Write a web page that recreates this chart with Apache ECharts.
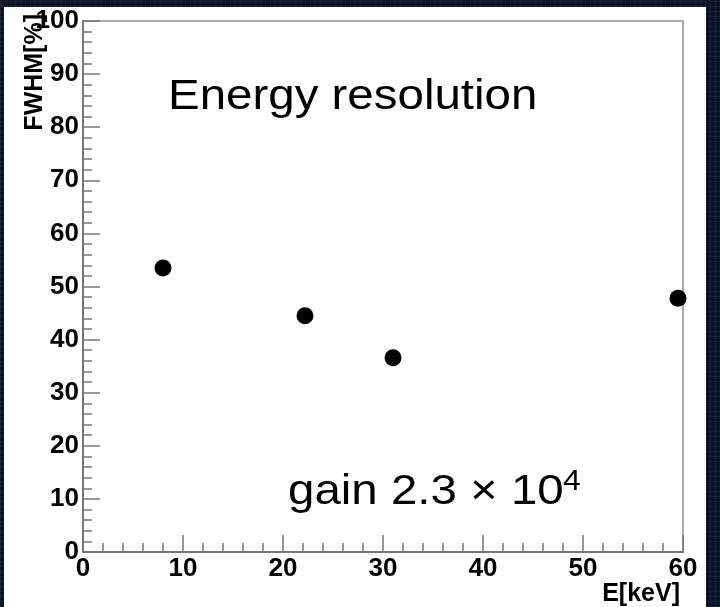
<!DOCTYPE html>
<html>
<head>
<meta charset="utf-8">
<script src="https://cdn.jsdelivr.net/npm/echarts@6/dist/echarts.min.js"></script>
<style>
  html, body { margin: 0; padding: 0; }
  body {
    width: 720px; height: 607px; overflow: hidden; position: relative;
    background-color: #0b1325;
    background-image:
      repeating-linear-gradient(0deg, rgba(40,55,90,0.3) 0px, rgba(40,55,90,0.3) 1px, transparent 1px, transparent 5px),
      repeating-linear-gradient(90deg, rgba(40,55,90,0.3) 0px, rgba(40,55,90,0.3) 1px, transparent 1px, transparent 5px);
  }
  #paper { position: absolute; left: 4px; top: 7px; width: 702px; height: 600px; background: #ffffff; }
  #chart { position: absolute; left: 0; top: 0; width: 720px; height: 607px; }
</style>
</head>
<body>
<div id="paper"></div>
<div id="chart"></div>
<script>
// Data
const energies = [8.0, 22.2, 31.0, 59.5];          // E [keV]
const fwhm = [53.5, 44.5, 36.6, 47.8];              // FWHM [%]
const xTicks = { min: 0, max: 60, interval: 10 };
const yTicks = { min: 0, max: 100, interval: 10 };
const xTitle = 'E[keV]';
const yTitle = 'FWHM[%]';
const titleText = 'Energy resolution';
const gainText = 'gain 2.3 \u00d7 10';
const gainExp = '4';

const points = energies.map((e, i) => [e, fwhm[i]]);

const chart = echarts.init(document.getElementById('chart'), null, { renderer: 'canvas' });
const axisGray = '#777777';
const labelFont = { color: '#000', fontWeight: 'bold', fontSize: 26, fontFamily: 'Liberation Sans, Arial, sans-serif' };

chart.setOption({
  backgroundColor: 'transparent',
  animation: false,
  grid: {
    left: 83, top: 21, width: 600, height: 531,
    show: true, borderColor: '#aaaaaa', borderWidth: 2, backgroundColor: 'transparent'
  },
  xAxis: {
    type: 'value', min: xTicks.min, max: xTicks.max, interval: xTicks.interval,
    axisLine: { show: true, onZero: false, lineStyle: { color: axisGray, width: 2 } },
    axisTick: { show: true, inside: true, length: 17, lineStyle: { color: axisGray, width: 1.5 } },
    minorTick: { show: true, splitNumber: 5, length: 9, lineStyle: { color: axisGray, width: 1.5 } },
    splitLine: { show: false },
    axisLabel: Object.assign({ margin: 4 }, labelFont)
  },
  yAxis: {
    type: 'value', min: yTicks.min, max: yTicks.max, interval: yTicks.interval,
    axisLine: { show: true, onZero: false, lineStyle: { color: axisGray, width: 2 } },
    axisTick: { show: true, inside: true, length: 17, lineStyle: { color: axisGray, width: 1.5 } },
    minorTick: { show: true, splitNumber: 5, length: 9, lineStyle: { color: axisGray, width: 1.5 } },
    splitLine: { show: false },
    axisLabel: Object.assign({ margin: 4, padding: [7, 0, 0, 0] }, labelFont)
  },
  series: [{
    type: 'scatter',
    data: points,
    symbol: 'circle',
    symbolSize: 17,
    itemStyle: { color: '#000000', opacity: 1 }
  }],
  graphic: [
    {
      type: 'text', x: 168, y: 97, scaleX: 1.13,
      style: { text: titleText, fill: '#000', font: '42px "Liberation Sans", Arial, sans-serif',
               textAlign: 'left', textVerticalAlign: 'middle' }
    },
    {
      type: 'text', x: 288, y: 492, scaleX: 1.13,
      style: { text: gainText, fill: '#000', font: '42px "Liberation Sans", Arial, sans-serif',
               textAlign: 'left', textVerticalAlign: 'middle' }
    },
    {
      type: 'text', x: 563, y: 482, scaleX: 1.1,
      style: { text: gainExp, fill: '#000', font: '29px "Liberation Sans", Arial, sans-serif',
               textAlign: 'left', textVerticalAlign: 'middle' }
    },
    {
      type: 'text', x: 680, y: 594,
      style: { text: xTitle, fill: '#000', font: 'bold 25px "Liberation Sans", Arial, sans-serif',
               textAlign: 'right', textVerticalAlign: 'middle' }
    },
    {
      type: 'text', x: 35, y: 14, rotation: Math.PI / 2,
      style: { text: yTitle, fill: '#000', font: 'bold 25px "Liberation Sans", Arial, sans-serif',
               textAlign: 'right', textVerticalAlign: 'middle' }
    }
  ]
});
</script>
</body>
</html>
